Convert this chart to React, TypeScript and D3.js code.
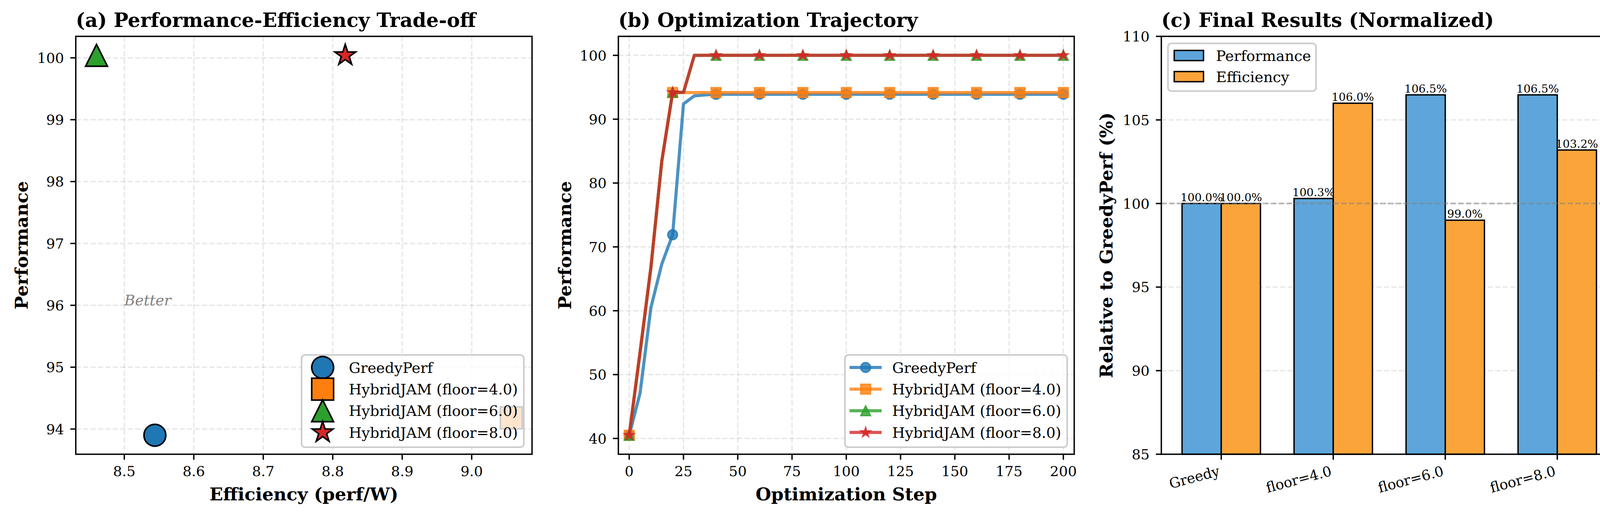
import { useEffect, useRef } from 'react';
import * as d3 from 'd3';

const W = 4169;
const H = 1320;
const FONT = '"DejaVu Serif", serif';

// ---- panel (a): final performance vs efficiency
const methods = ['GreedyPerf', 'HybridJAM (floor=4.0)', 'HybridJAM (floor=6.0)', 'HybridJAM (floor=8.0)'];
const methodColors = ['#1f77b4', '#ff7f0e', '#2ca02c', '#d62728'];
const methodMarkers = ['o', 's', '^', '*'];
const finalEfficiency = [8.544, 9.057, 8.46, 8.818];
const finalPerformance = [93.9, 94.18, 100.04, 100.04];

// ---- panel (b): optimization trajectory (logged every 5 steps)
const steps = [
  0, 5, 10, 15, 20, 25, 30, 35, 40, 45, 50, 55, 60, 65, 70, 75, 80, 85, 90, 95, 100,
  105, 110, 115, 120, 125, 130, 135, 140, 145, 150, 155, 160, 165, 170, 175, 180, 185, 190, 195, 200,
];
const trajGreedy = [
  40.5, 47.1, 60.5, 67.3, 71.9, 92.4, 93.65, 93.8, 93.9, 93.9, 93.9, 93.9, 93.9, 93.9, 93.9, 93.9, 93.9, 93.9, 93.9, 93.9, 93.9,
  93.9, 93.9, 93.9, 93.9, 93.9, 93.9, 93.9, 93.9, 93.9, 93.9, 93.9, 93.9, 93.9, 93.9, 93.9, 93.9, 93.9, 93.9, 93.9, 93.9,
];
const trajFloor4 = [
  40.5, 53.5, 66.8, 83.4, 94.18, 94.18, 94.18, 94.18, 94.18, 94.18, 94.18, 94.18, 94.18, 94.18, 94.18, 94.18, 94.18, 94.18, 94.18, 94.18, 94.18,
  94.18, 94.18, 94.18, 94.18, 94.18, 94.18, 94.18, 94.18, 94.18, 94.18, 94.18, 94.18, 94.18, 94.18, 94.18, 94.18, 94.18, 94.18, 94.18, 94.18,
];
const trajFloor6 = [
  40.5, 53.5, 66.8, 83.4, 94.2, 94.2, 100.0, 100.0, 100.0, 100.0, 100.0, 100.0, 100.0, 100.0, 100.0, 100.0, 100.0, 100.0, 100.0, 100.0, 100.0,
  100.0, 100.0, 100.0, 100.0, 100.0, 100.0, 100.0, 100.0, 100.0, 100.0, 100.0, 100.0, 100.0, 100.0, 100.0, 100.0, 100.0, 100.0, 100.0, 100.0,
];
const trajFloor8 = [
  40.5, 53.5, 66.8, 83.4, 94.2, 94.2, 100.0, 100.0, 100.0, 100.0, 100.0, 100.0, 100.0, 100.0, 100.0, 100.0, 100.0, 100.0, 100.0, 100.0, 100.0,
  100.0, 100.0, 100.0, 100.0, 100.0, 100.0, 100.0, 100.0, 100.0, 100.0, 100.0, 100.0, 100.0, 100.0, 100.0, 100.0, 100.0, 100.0, 100.0, 100.0,
];
const trajectories = [trajGreedy, trajFloor4, trajFloor6, trajFloor8];

// ---- panel (c): normalized final results
const barCategories = ['Greedy', 'floor=4.0', 'floor=6.0', 'floor=8.0'];
const relPerformance = [100.0, 100.3, 106.5, 106.5];
const relEfficiency = [100.0, 106.0, 99.0, 103.2];
const barSeries = ['Performance', 'Efficiency'];
const barColors = ['#5da5da', '#faa43a'];

type G = d3.Selection<SVGGElement, unknown, null, undefined>;
type Box = { l: number; r: number; t: number; b: number };

const SPINE = 3.5;
const TICK_FS = 36;
const LEGEND_FS = 37.5;
const LABEL_FS = 45.7;
const TITLE_FS = 50;

function padded(vals: number[], frac = 0.05): [number, number] {
  const [lo, hi] = d3.extent(vals) as [number, number];
  const p = (hi - lo) * frac;
  return [lo - p, hi + p];
}

function markerPath(kind: string, s: number) {
  const h = s / 2;
  if (kind === 'o') return `M${-h},0A${h},${h} 0 1,0 ${h},0A${h},${h} 0 1,0 ${-h},0Z`;
  if (kind === 's') return `M${-h},${-h}H${h}V${h}H${-h}Z`;
  if (kind === '^') return `M0,${-h}L${h},${h}L${-h},${h}Z`;
  // star
  const inner = h * 0.381966;
  const pts: string[] = [];
  for (let i = 0; i < 10; i++) {
    const rr = i % 2 === 0 ? h : inner;
    const a = -Math.PI / 2 + (i * Math.PI) / 5;
    pts.push(`${rr * Math.cos(a)},${rr * Math.sin(a)}`);
  }
  return 'M' + pts.join('L') + 'Z';
}

function gridLines(g: G, box: Box, xs: number[], ys: number[]) {
  const grid = g.append('g');
  grid.selectAll('.vg')
    .data(xs)
    .enter()
    .append('line')
    .attr('x1', d => d).attr('x2', d => d)
    .attr('y1', box.t).attr('y2', box.b)
    .attr('stroke', '#b0b0b0').attr('stroke-opacity', 0.3)
    .attr('stroke-width', 3.5).attr('stroke-dasharray', '13,6');
  grid.selectAll('.hg')
    .data(ys)
    .enter()
    .append('line')
    .attr('x1', box.l).attr('x2', box.r)
    .attr('y1', d => d).attr('y2', d => d)
    .attr('stroke', '#b0b0b0').attr('stroke-opacity', 0.3)
    .attr('stroke-width', 3.5).attr('stroke-dasharray', '13,6');
}

function frame(g: G, box: Box) {
  g.append('rect')
    .attr('x', box.l).attr('y', box.t)
    .attr('width', box.r - box.l).attr('height', box.b - box.t)
    .attr('fill', 'none').attr('stroke', '#000').attr('stroke-width', SPINE);
}

function yAxis(g: G, box: Box, y: d3.ScaleLinear<number, number>, ticks: number[], fmt: (v: number) => string) {
  const ax = g.append('g');
  ax.selectAll('line')
    .data(ticks)
    .enter()
    .append('line')
    .attr('x1', box.l - 14).attr('x2', box.l)
    .attr('y1', d => y(d)).attr('y2', d => y(d))
    .attr('stroke', '#000').attr('stroke-width', SPINE);
  ax.selectAll('text')
    .data(ticks)
    .enter()
    .append('text')
    .attr('x', box.l - 30)
    .attr('y', d => y(d))
    .attr('dy', '0.36em')
    .attr('text-anchor', 'end')
    .attr('font-family', FONT).attr('font-size', TICK_FS)
    .text(d => fmt(d));
}

function xAxis(g: G, box: Box, x: d3.ScaleLinear<number, number>, ticks: number[], fmt: (v: number) => string) {
  const ax = g.append('g');
  ax.selectAll('line')
    .data(ticks)
    .enter()
    .append('line')
    .attr('x1', d => x(d)).attr('x2', d => x(d))
    .attr('y1', box.b).attr('y2', box.b + 14)
    .attr('stroke', '#000').attr('stroke-width', SPINE);
  ax.selectAll('text')
    .data(ticks)
    .enter()
    .append('text')
    .attr('x', d => x(d))
    .attr('y', 1218)
    .attr('text-anchor', 'middle')
    .attr('font-family', FONT).attr('font-size', TICK_FS)
    .text(d => fmt(d));
}

function titles(g: G, box: Box, title: string, ylabel: string, ylabelX: number, xlabel?: string) {
  g.append('text')
    .attr('x', box.l).attr('y', 69)
    .attr('font-family', FONT).attr('font-size', TITLE_FS).attr('font-weight', 'bold')
    .text(title);
  g.append('text')
    .attr('transform', `translate(${ylabelX},${(box.t + box.b) / 2}) rotate(-90)`)
    .attr('text-anchor', 'middle')
    .attr('font-family', FONT).attr('font-size', LABEL_FS).attr('font-weight', 'bold')
    .text(ylabel);
  if (xlabel) {
    g.append('text')
      .attr('x', (box.l + box.r) / 2).attr('y', 1280)
      .attr('text-anchor', 'middle')
      .attr('font-family', FONT).attr('font-size', LABEL_FS).attr('font-weight', 'bold')
      .text(xlabel);
  }
}

function legendFrame(g: G, x: number, y: number, w: number, h: number) {
  g.append('rect')
    .attr('x', x).attr('y', y).attr('width', w).attr('height', h)
    .attr('rx', 9).attr('ry', 9)
    .attr('fill', '#fff').attr('fill-opacity', 0.8)
    .attr('stroke', '#cccccc').attr('stroke-width', 4);
}

function drawTradeoff(g: G) {
  const box: Box = { l: 194, r: 1362, t: 93, b: 1162 };
  const x = d3.scaleLinear().domain(padded(finalEfficiency)).range([box.l, box.r]);
  const y = d3.scaleLinear().domain(padded(finalPerformance)).range([box.b, box.t]);
  const xt = [8.5, 8.6, 8.7, 8.8, 8.9, 9.0];
  const yt = [94, 95, 96, 97, 98, 99, 100];

  gridLines(g, box, xt.map(x), yt.map(y));

  g.append('text')
    .attr('x', x(8.5)).attr('y', y(96))
    .attr('font-family', FONT).attr('font-size', 37.5).attr('font-style', 'italic')
    .attr('fill', '#808080')
    .text('Better');

  g.append('g')
    .selectAll('path')
    .data(methods.map((m, i) => i))
    .enter()
    .append('path')
    .attr('d', i => markerPath(methodMarkers[i], 56))
    .attr('transform', i => `translate(${x(finalEfficiency[i])},${y(finalPerformance[i])})`)
    .attr('fill', i => methodColors[i])
    .attr('stroke', '#000').attr('stroke-width', 4).attr('stroke-linejoin', 'miter');

  // legend (lower right)
  const lx = 772, ly = 908;
  const lg = g.append('g');
  legendFrame(lg, lx, ly, 569, 236);
  methods.forEach((m, i) => {
    const cy = ly + 32 + i * 55.4;
    lg.append('path')
      .attr('d', markerPath(methodMarkers[i], 56))
      .attr('transform', `translate(${lx + 54},${cy})`)
      .attr('fill', methodColors[i]).attr('stroke', '#000').attr('stroke-width', 4);
    lg.append('text')
      .attr('x', lx + 121).attr('y', cy).attr('dy', '0.36em')
      .attr('font-family', FONT).attr('font-size', LEGEND_FS)
      .text(m);
  });

  frame(g, box);
  xAxis(g, box, x, xt, d3.format('.1f'));
  yAxis(g, box, y, yt, d3.format('d'));
  titles(g, box, '(a) Performance-Efficiency Trade-off', 'Performance', 71, 'Efficiency (perf/W)');
}

function drawTrajectory(g: G) {
  const box: Box = { l: 1583, r: 2750, t: 93, b: 1162 };
  const x = d3.scaleLinear().domain([-5, 205]).range([box.l, box.r]);
  const y = d3.scaleLinear().domain(padded(trajectories.flat())).range([box.b, box.t]);
  const xt = [0, 25, 50, 75, 100, 125, 150, 175, 200];
  const yt = [40, 50, 60, 70, 80, 90, 100];

  gridLines(g, box, xt.map(x), yt.map(y));

  const line = d3.line<number>()
    .x((d, i) => x(steps[i]))
    .y(d => y(d));

  trajectories.forEach((series, k) => {
    g.append('path')
      .attr('d', line(series))
      .attr('fill', 'none')
      .attr('stroke', methodColors[k]).attr('stroke-opacity', 0.8)
      .attr('stroke-width', 8).attr('stroke-linejoin', 'round');
    const marks = series.map((v, i) => i).filter(i => i % 4 === 0);
    g.append('g')
      .selectAll('path')
      .data(marks)
      .enter()
      .append('path')
      .attr('d', markerPath(methodMarkers[k], 25))
      .attr('transform', i => `translate(${x(steps[i])},${y(series[i])})`)
      .attr('fill', methodColors[k]).attr('fill-opacity', 0.8)
      .attr('stroke', methodColors[k]).attr('stroke-opacity', 0.8).attr('stroke-width', 3.5);
  });

  // legend (lower right)
  const lx = 2163, ly = 908;
  const lg = g.append('g');
  legendFrame(lg, lx, ly, 569, 236);
  methods.forEach((m, i) => {
    const cy = ly + 32 + i * 55.4;
    lg.append('line')
      .attr('x1', lx + 12).attr('x2', lx + 94).attr('y1', cy).attr('y2', cy)
      .attr('stroke', methodColors[i]).attr('stroke-opacity', 0.8).attr('stroke-width', 8);
    lg.append('path')
      .attr('d', markerPath(methodMarkers[i], 25))
      .attr('transform', `translate(${lx + 53},${cy})`)
      .attr('fill', methodColors[i]).attr('fill-opacity', 0.8)
      .attr('stroke', methodColors[i]).attr('stroke-opacity', 0.8).attr('stroke-width', 3.5);
    lg.append('text')
      .attr('x', lx + 121).attr('y', cy).attr('dy', '0.36em')
      .attr('font-family', FONT).attr('font-size', LEGEND_FS)
      .text(m);
  });

  frame(g, box);
  xAxis(g, box, x, xt, d3.format('d'));
  yAxis(g, box, y, yt, d3.format('d'));
  titles(g, box, '(b) Optimization Trajectory', 'Performance', 1462, 'Optimization Step');
}

function drawFinal(g: G) {
  const box: Box = { l: 2973, r: 4140, t: 93, b: 1162 };
  const barW = 0.35;
  const x = d3.scaleLinear()
    .domain(padded([-barW, barCategories.length - 1 + barW]))
    .range([box.l, box.r]);
  const y = d3.scaleLinear().domain([85, 110]).range([box.b, box.t]);
  const yt = [85, 90, 95, 100, 105, 110];

  gridLines(g, box, [], yt.map(y));

  const values = [relPerformance, relEfficiency];
  values.forEach((vals, k) => {
    const off = k === 0 ? -barW / 2 : barW / 2;
    const bars = g.append('g');
    bars.selectAll('rect')
      .data(vals)
      .enter()
      .append('rect')
      .attr('x', (d, i) => x(i + off - barW / 2))
      .attr('width', x(barW) - x(0))
      .attr('y', d => y(d))
      .attr('height', d => y(85) - y(d))
      .attr('fill', barColors[k])
      .attr('stroke', '#000').attr('stroke-width', 3.5);
    bars.selectAll('text')
      .data(vals)
      .enter()
      .append('text')
      .attr('x', (d, i) => x(i + off))
      .attr('y', d => y(d) - 6)
      .attr('text-anchor', 'middle')
      .attr('font-family', FONT).attr('font-size', 28.5)
      .text(d => `${d.toFixed(1)}%`);
  });

  // reference line at 100
  g.append('line')
    .attr('x1', box.l).attr('x2', box.r)
    .attr('y1', y(100)).attr('y2', y(100))
    .attr('stroke', '#808080').attr('stroke-opacity', 0.55)
    .attr('stroke-width', 4).attr('stroke-dasharray', '14,6');

  // legend (upper left)
  const lx = 2990, ly = 111;
  const lg = g.append('g');
  legendFrame(lg, lx, ly, 379, 122);
  barSeries.forEach((s, i) => {
    const cy = ly + 31 + i * 54;
    lg.append('rect')
      .attr('x', lx + 16).attr('y', cy - 13).attr('width', 75).attr('height', 26)
      .attr('fill', barColors[i]).attr('stroke', '#000').attr('stroke-width', 3.5);
    lg.append('text')
      .attr('x', lx + 123).attr('y', cy).attr('dy', '0.36em')
      .attr('font-family', FONT).attr('font-size', LEGEND_FS)
      .text(s);
  });

  frame(g, box);
  yAxis(g, box, y, yt, d3.format('d'));

  // category ticks, labels rotated 15 degrees
  const ax = g.append('g');
  barCategories.forEach((c, i) => {
    ax.append('line')
      .attr('x1', x(i)).attr('x2', x(i))
      .attr('y1', box.b).attr('y2', box.b + 14)
      .attr('stroke', '#000').attr('stroke-width', SPINE);
    ax.append('text')
      .attr('transform', `translate(${x(i) - 2},${box.b + 54}) rotate(-15)`)
      .attr('text-anchor', 'end')
      .attr('font-family', FONT).attr('font-size', TICK_FS)
      .text(c);
  });

  titles(g, box, '(c) Final Results (Normalized)', 'Relative to GreedyPerf (%)', 2848);
}

export default function App() {
  const svgRef = useRef<SVGSVGElement>(null);

  useEffect(() => {
    if (!svgRef.current) return;
    const svg = d3.select(svgRef.current);
    svg.selectAll('*').remove();
    drawTradeoff(svg.append('g'));
    drawTrajectory(svg.append('g'));
    drawFinal(svg.append('g'));
  }, []);

  return (
    <svg
      ref={svgRef}
      width={W}
      height={H}
      style={{ position: 'absolute', left: 0, top: 0, background: '#fff' }}
    />
  );
}
